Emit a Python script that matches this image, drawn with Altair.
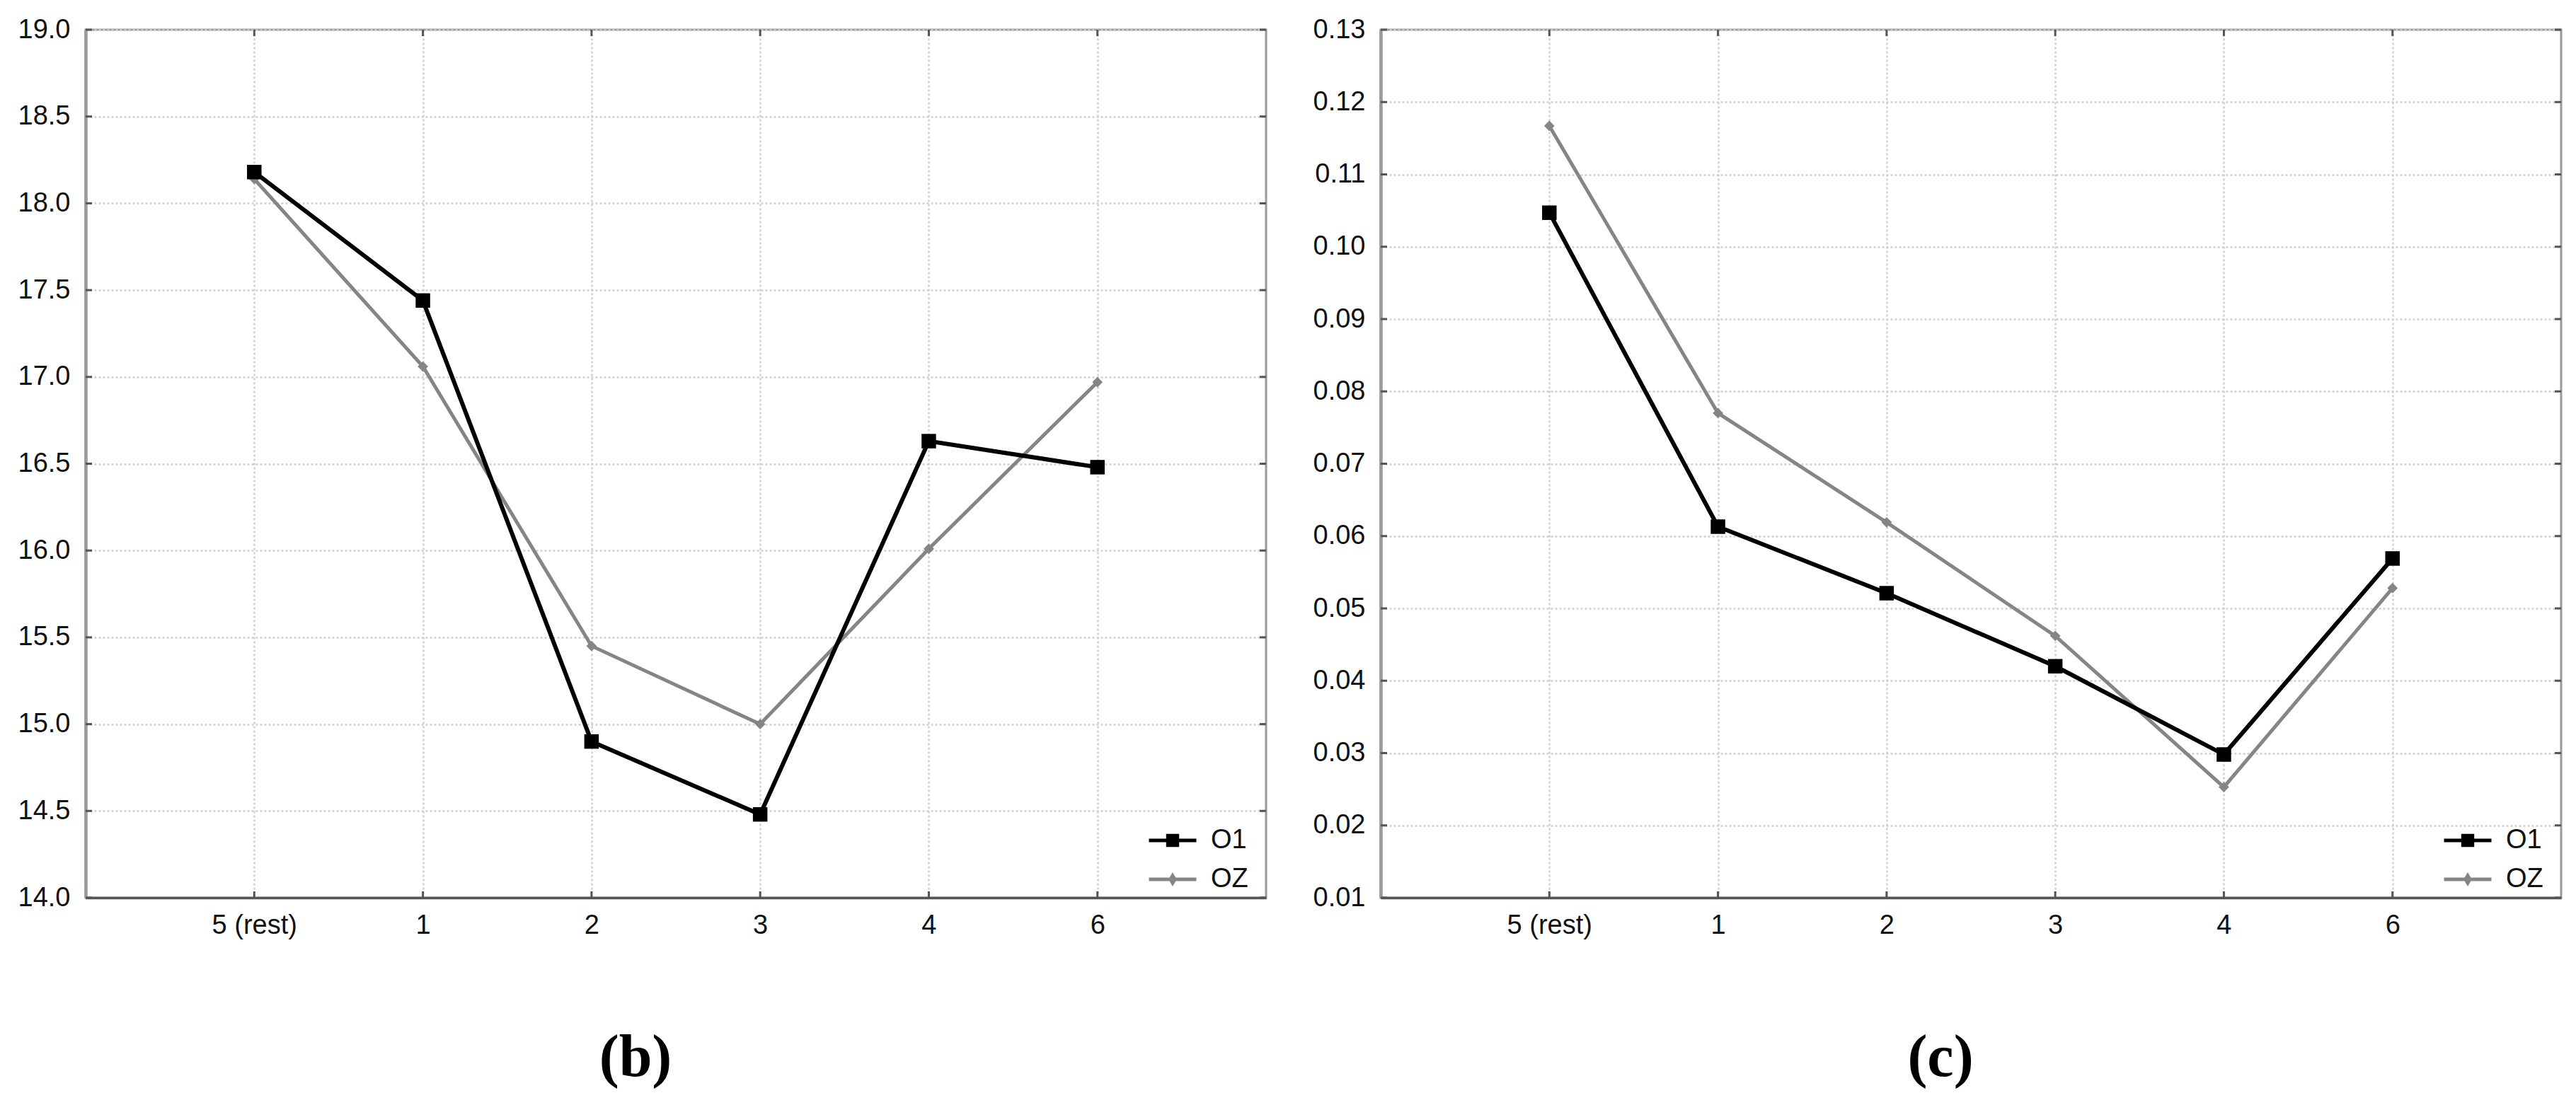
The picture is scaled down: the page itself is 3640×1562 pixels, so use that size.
import altair as alt
import pandas as pd

# ---------------- data ----------------
categories = ["5 (rest)", "1", "2", "3", "4", "6"]
series_names = ["O1", "OZ"]
series_colors = ["#000000", "#858585"]

b_o1 = [18.18, 17.44, 14.90, 14.48, 16.63, 16.48]
b_oz = [18.14, 17.06, 15.45, 15.00, 16.01, 16.97]
b_ticks = [14.0, 14.5, 15.0, 15.5, 16.0, 16.5, 17.0, 17.5, 18.0, 18.5, 19.0]

c_o1 = [0.1047, 0.0613, 0.0521, 0.0420, 0.0298, 0.0569]
c_oz = [0.1167, 0.0770, 0.0619, 0.0462, 0.0253, 0.0528]
c_ticks = [0.01, 0.02, 0.03, 0.04, 0.05, 0.06, 0.07, 0.08, 0.09, 0.10, 0.11, 0.12, 0.13]

panel_labels = ["(b)", "(c)"]

# ---------------- style ----------------
W, H = 1668, 1227
FONT = "Liberation Sans"
TICK_LEN = 9
GRID = dict(grid=True, gridColor="#d0d0d0", gridDash=[3, 3], gridWidth=2.5)

# legend symbols: line with marker
path_o1 = "M-1,0H1M-0.2,-0.2H0.2V0.2H-0.2ZM-0.2,-0.07H0.2M-0.2,0.07H0.2"
path_oz = "M-1,0H1M0,-0.15L0.09,0L0,0.15L-0.09,0Z"


def panel(o1, oz, ticks, fmt, label, dx):
    df = pd.DataFrame({
        "cat": categories * 2,
        "val": o1 + oz,
        "series": [series_names[0]] * len(o1) + [series_names[1]] * len(oz),
    })
    tdf = pd.DataFrame({"val": ticks})
    cdf = pd.DataFrame({"cat": categories})

    xs = alt.Scale(type="point", domain=categories, padding=1)
    ys = alt.Scale(domain=[ticks[0], ticks[-1]], nice=False, zero=False)

    x_axis = alt.Axis(title=None, labelAngle=0, labelFont=FONT, labelFontSize=38,
                      labelColor="#111111", labelPadding=20, ticks=False,
                      domainColor="#555555", domainWidth=3.5, **GRID)
    y_axis = alt.Axis(title=None, values=ticks, format=fmt, labelFont=FONT,
                      labelFontSize=38, labelColor="#111111", labelPadding=22,
                      ticks=False, domainColor="#9a9a9a", domainWidth=4.5, **GRID)

    X = alt.X("cat:O", scale=xs, axis=x_axis, sort=categories)
    Y = alt.Y("val:Q", scale=ys, axis=y_axis)

    base = alt.Chart(df)
    oz_data = base.transform_filter(alt.datum.series == series_names[1])
    o1_data = base.transform_filter(alt.datum.series == series_names[0])

    # OZ first (drawn below), then O1
    oz_line = oz_data.mark_line(color=series_colors[1], strokeWidth=5).encode(x=X, y=Y)
    oz_pts = oz_data.mark_point(shape="diamond", filled=True, size=220,
                                color=series_colors[1], opacity=1).encode(x=X, y=Y)
    o1_line = o1_data.mark_line(color=series_colors[0], strokeWidth=6).encode(x=X, y=Y)
    o1_pts = o1_data.mark_point(shape="square", filled=True, size=420,
                                color=series_colors[0], opacity=1).encode(x=X, y=Y)

    # inward ticks on all four sides
    tick_style = dict(color="#555555", strokeWidth=3)
    left_t = alt.Chart(tdf).mark_rule(**tick_style).encode(
        y=Y, x=alt.value(0), x2=alt.value(TICK_LEN))
    right_t = alt.Chart(tdf).mark_rule(**tick_style).encode(
        y=Y, x=alt.value(W - TICK_LEN), x2=alt.value(W))
    top_t = alt.Chart(cdf).mark_rule(**tick_style).encode(
        x=X, y=alt.value(0), y2=alt.value(TICK_LEN))
    bot_t = alt.Chart(cdf).mark_rule(**tick_style).encode(
        x=X, y=alt.value(H - TICK_LEN), y2=alt.value(H))

    # legend carrier (no visible marks)
    leg_props = dict(title=None, orient="none", legendX=1500, legendY=1110, padding=0,
                     labelFont=FONT, labelFontSize=38, labelColor="#111111",
                     labelOffset=18, symbolSize=4489, symbolStrokeWidth=5,
                     rowPadding=-30, symbolOpacity=1)
    legend_layer = base.transform_filter("datum.val < -1e9").mark_point(
        filled=False, size=4489, strokeWidth=5).encode(
        x=X, y=Y,
        color=alt.Color("series:N", scale=alt.Scale(domain=series_names, range=series_colors),
                        legend=alt.Legend(**leg_props)),
        shape=alt.Shape("series:N", scale=alt.Scale(domain=series_names, range=[path_o1, path_oz]),
                        legend=alt.Legend(**leg_props)),
    )

    return alt.layer(
        oz_line, left_t, right_t, top_t, bot_t, oz_pts, o1_line, o1_pts, legend_layer
    ).properties(
        width=W, height=H,
        title=alt.TitleParams(text=label, orient="bottom", anchor="middle",
                              font="Liberation Serif", fontSize=84, fontWeight="bold",
                              color="#000000", offset=128, dx=dx),
    )


left = panel(b_o1, b_oz, b_ticks, ".1f", panel_labels[0], -57)
right = panel(c_o1, c_oz, c_ticks, ".2f", panel_labels[1], -43)

chart = alt.hconcat(left, right, spacing=61).resolve_scale(
    color="independent", shape="independent", x="independent", y="independent"
).resolve_legend(color="independent", shape="independent").properties(
    padding={"left": 15, "top": 13, "right": 5, "bottom": 5},
    background="white",
).configure_view(stroke="#9a9a9a", strokeWidth=3)

chart.save("out.html", embed_options={"renderer": "svg", "actions": False})
